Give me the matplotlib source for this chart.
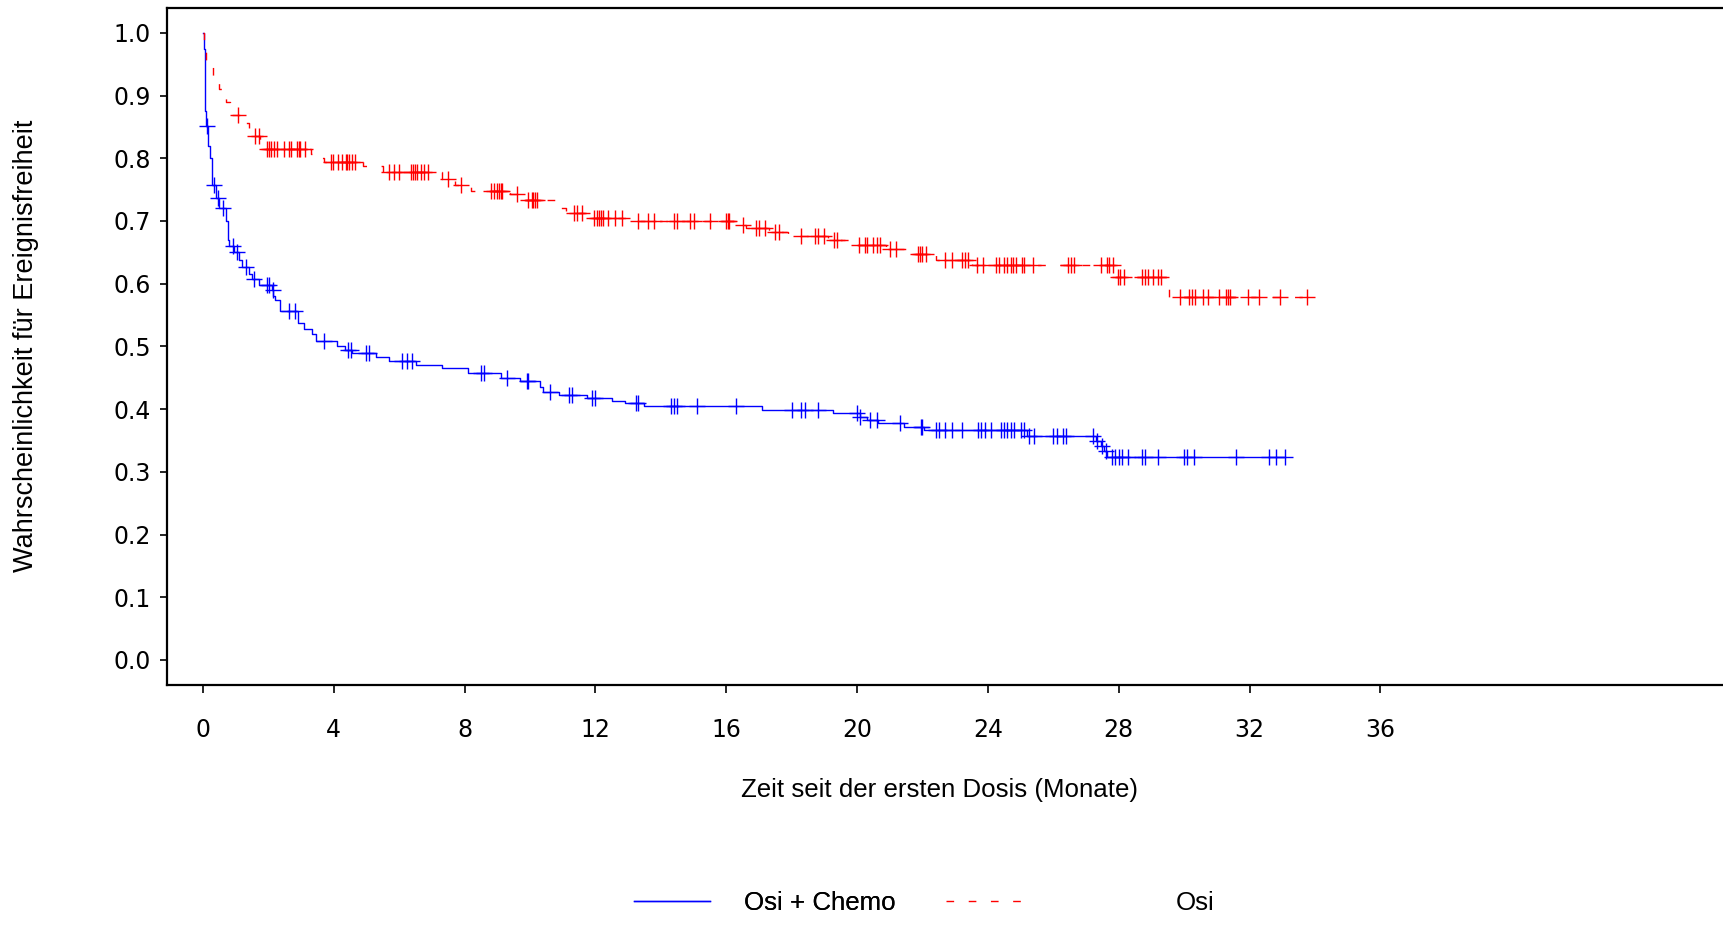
import numpy as np
import matplotlib
matplotlib.use('Agg')
import matplotlib.pyplot as plt

# Kaplan-Meier steps: time (months) and survival after each event
blue_t = [0, 0.02, 0.05, 0.10, 0.17, 0.22, 0.27, 0.40, 0.50, 0.70, 0.76, 0.81, 0.95, 1.10,
          1.20, 1.40, 1.50, 1.70, 2.10, 2.15, 2.20, 2.35, 2.90, 3.10, 3.35, 3.45, 4.10, 4.35,
          4.55, 5.30, 5.70, 6.50, 7.30, 8.10, 9.10, 9.70, 10.30, 10.40, 10.90, 11.75, 12.50,
          12.90, 13.50, 17.10, 19.26, 20.10, 20.30, 20.65, 21.45, 22.04, 25.20, 27.30, 27.45,
          27.55, 27.65]
blue_s = [1.0, 0.974, 0.876, 0.852, 0.82, 0.80, 0.757, 0.737, 0.72, 0.70, 0.669, 0.66, 0.650,
          0.638, 0.627, 0.616, 0.607, 0.598, 0.59, 0.58, 0.574, 0.556, 0.538, 0.528, 0.519,
          0.508, 0.50, 0.495, 0.49, 0.483, 0.477, 0.47, 0.465, 0.458, 0.45, 0.445, 0.435, 0.428,
          0.422, 0.418, 0.413, 0.41, 0.405, 0.398, 0.393, 0.388, 0.383, 0.378, 0.372, 0.366,
          0.357, 0.349, 0.341, 0.333, 0.324]
blue_c = [0.12, 0.33, 0.46, 0.61, 0.93, 1.03, 1.33, 1.55, 1.95, 2.03, 2.13, 2.64, 2.83, 3.7,
          4.45, 4.53, 5.0, 5.08, 6.1, 6.25, 6.4, 8.5, 8.6, 9.3, 9.9, 9.95, 10.6, 11.2, 11.28,
          11.9, 12.0, 13.25, 13.3, 14.3, 14.4, 14.5, 15.1, 16.3, 18.0, 18.3, 18.4, 18.8, 20.0,
          20.1, 20.4, 20.6, 21.3, 21.95, 22.0, 22.4, 22.5, 22.7, 22.9, 23.2, 23.7, 23.8, 23.9,
          24.1, 24.4, 24.5, 24.6, 24.7, 24.8, 25.0, 25.1, 25.25, 25.4, 26.0, 26.1, 26.3, 26.4,
          27.2, 27.35, 27.5, 27.6, 27.8, 27.9, 28.0, 28.1, 28.3, 28.7, 28.8, 29.2, 30.0, 30.1,
          30.3, 31.6, 32.6, 32.8, 33.1]

red_t = [0, 0.03, 0.1, 0.3, 0.5, 0.7, 0.82, 1.3, 1.4, 1.6, 1.75, 1.9, 3.3, 3.55, 3.7, 4.9,
         5.5, 7.3, 7.7, 8.2, 9.4, 9.8, 10.85, 11.1, 11.9, 13.1, 16.3, 16.6, 17.3, 17.9, 19.1,
         19.9, 20.9, 21.5, 22.4, 23.5, 27.9, 29.55]
red_s = [1.0, 0.975, 0.95, 0.93, 0.91, 0.89, 0.869, 0.857, 0.845, 0.836, 0.829, 0.814, 0.806,
         0.800, 0.794, 0.787, 0.778, 0.767, 0.757, 0.748, 0.743, 0.734, 0.721, 0.712, 0.705,
         0.700, 0.694, 0.688, 0.682, 0.676, 0.669, 0.662, 0.656, 0.648, 0.638, 0.630, 0.610,
         0.578]
red_c = [1.07, 1.6, 1.7, 1.97, 2.02, 2.07, 2.17, 2.27, 2.47, 2.63, 2.68, 2.88, 2.93, 2.98,
         3.13, 3.93, 3.97, 4.12, 4.25, 4.36, 4.41, 4.46, 4.56, 4.64, 5.7, 5.85, 6.0, 6.36, 6.43,
         6.49, 6.56, 6.67, 6.77, 6.87, 7.48, 7.9, 8.8, 8.9, 9.0, 9.05, 9.1, 9.15, 9.6, 9.95,
         10.05, 10.1, 10.15, 10.2, 11.35, 11.45, 11.6, 11.95, 12.05, 12.12, 12.18, 12.22, 12.4,
         12.6, 12.8, 13.3, 13.6, 13.8, 14.4, 14.5, 14.9, 15.0, 15.5, 16.0, 16.05, 16.1, 16.5,
         16.9, 17.0, 17.2, 17.5, 17.6, 18.3, 18.7, 18.8, 19.0, 19.3, 19.4, 20.05, 20.25, 20.3,
         20.5, 20.6, 20.7, 21.0, 21.2, 21.87, 21.94, 22.0, 22.1, 22.7, 22.9, 23.2, 23.3, 23.4,
         23.67, 23.85, 24.26, 24.35, 24.5, 24.6, 24.7, 24.77, 24.86, 25.04, 25.1, 25.38, 26.45,
         26.55, 26.64, 27.46, 27.63, 27.7, 27.84, 27.98, 28.05, 28.15, 28.7, 28.8, 28.9, 29.04,
         29.2, 29.3, 29.87, 30.14, 30.24, 30.34, 30.58, 30.72, 31.06, 31.27, 31.34, 31.4,
         31.95, 32.3, 32.93, 33.75]

labels = ['Osi + Chemo', 'Osi']
x_ticks = [0, 4, 8, 12, 16, 20, 24, 28, 32, 36]
y_ticks = [0.0, 0.1, 0.2, 0.3, 0.4, 0.5, 0.6, 0.7, 0.8, 0.9, 1.0]

label_font = ['Liberation Sans', 'DejaVu Sans']
tick_font = 'DejaVu Sans'


def surv_at(times, surv, c):
    idx = np.searchsorted(times, c, side='right') - 1
    return np.asarray(surv)[idx]


fig = plt.figure(figsize=(17.23, 9.33), dpi=100)
ax = fig.add_axes([0.0969, 0.2658, 0.932, 0.7259])

curves = [
    (blue_t, blue_s, blue_c, 'blue', '-'),
    (red_t, red_s, red_c, 'red', (0, (5.5, 10.5))),
]
handles = []
for (t, s, c, color, ls), lab in zip(curves, labels):
    t_end = max(c[-1], t[-1])
    h, = ax.step(t + [t_end], s + [s[-1]], where='post', color=color, linestyle=ls,
                 linewidth=1.0, label=lab)
    ax.plot(c, surv_at(t, s, c), linestyle='none', marker='+', markersize=11,
            markeredgewidth=1.0, color=color)
    handles.append(h)

ax.set_xlim(-1.1, 48)
ax.set_ylim(-0.04, 1.04)
ax.set_xticks(x_ticks)
ax.set_yticks(y_ticks)
ax.set_yticklabels([f'{v:.1f}' for v in y_ticks])

for sp in ax.spines.values():
    sp.set_linewidth(1.6)
    sp.set_color('black')

ax.tick_params(axis='both', direction='out', length=5.4, width=1.2, color='black',
               labelsize=17)
ax.tick_params(axis='x', pad=18.5)
ax.tick_params(axis='y', pad=6)
for lbl in ax.get_xticklabels() + ax.get_yticklabels():
    lbl.set_family(tick_font)

ax.set_xlabel('Zeit seit der ersten Dosis (Monate)', fontsize=18.6, family=label_font)
ax.xaxis.set_label_coords(0.4813, -0.1545)
ax.xaxis.label.set_va('center')
ax.set_ylabel('Wahrscheinlichkeit für Ereignisfreiheit', fontsize=19.5, family=label_font)
ax.yaxis.set_label_coords(-0.0875, 0.5005)
ax.yaxis.label.set_va('center')

# two single-entry legends, the SAS layout spaces them unevenly
leg1 = fig.legend(handles=[handles[0]], labels=[labels[0]], loc='center left',
                  bbox_to_anchor=(0.368, 0.0317), frameon=False, borderpad=0,
                  borderaxespad=0, handlelength=2.94, handletextpad=1.32,
                  prop={'family': label_font, 'size': 18.6})
leg2 = fig.legend(handles=[handles[1]], labels=[labels[1]], loc='center left',
                  bbox_to_anchor=(0.549, 0.0317), frameon=False, borderpad=0,
                  borderaxespad=0, handlelength=2.94, handletextpad=5.96,
                  prop={'family': label_font, 'size': 18.6})
fig.add_artist(leg1)

fig.savefig('out.png', dpi=100)
plt.close(fig)
